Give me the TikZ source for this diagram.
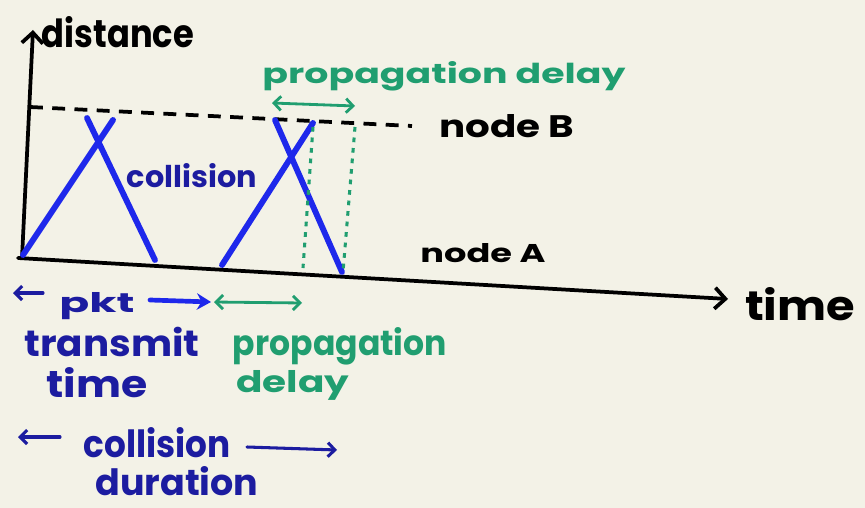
\documentclass[tikz,border=0pt]{standalone}
\usepackage{fontspec}
\setmainfont{Poppins}
\usetikzlibrary{arrows.meta}
\definecolor{paper}{RGB}{243,242,231}
\definecolor{mblue}{RGB}{30,40,235}
\definecolor{navy}{RGB}{28,28,160}
\definecolor{mgreen}{RGB}{32,158,112}
\newcommand\fitwh[3]{\resizebox{#1}{#2}{#3}}
\begin{document}
\begin{tikzpicture}[x=0.03cm,y=-0.03cm,
  axis/.style={line width=3.2pt,line cap=round},
  axtip/.style={-{Straight Barb[length=9pt,width=18pt]}},
  xline/.style={mblue,line width=5pt,line cap=round},
  dashB/.style={line width=3.2pt,dash pattern=on 11pt off 8pt},
  gdot/.style={mgreen,line width=2.6pt,dash pattern=on 4pt off 5pt},
  garrow/.style={mgreen,line width=2.4pt,line cap=round,{Straight Barb[length=6pt,width=12pt]}-{Straight Barb[length=6pt,width=12pt]}},
  nbarb/.style={navy,line width=2.6pt,line cap=round,-{Straight Barb[length=6pt,width=12pt]}},
  lbl/.style={inner sep=0pt,anchor=base,font=\bfseries}]
\fill[paper] (0,0) rectangle (865,508);
\useasboundingbox (0,0) rectangle (865,508);

% axes
\coordinate (O) at (18,258);
\coordinate (ytop) at (33,30);
\coordinate (xend) at (728,299);
\draw[axis,axtip] (22,258) -- (ytop);
\draw[axis,axtip] (O) -- (xend);
\node[lbl] (dist) at (118,48) {\fitwh{4.56cm}{0.93cm}{distance}};
\node[lbl] (timeax) at (800,320) {\fitwh{3.3cm}{0.99cm}{time}};

% node B line
\coordinate (B0) at (30,107);
\coordinate (B1) at (412,126);
\draw[dashB] (B0) -- (B1);
\node[lbl] (nodeB) at (507,138) {\fitwh{4.05cm}{0.69cm}{node B}};
\node[lbl] (nodeA) at (483,262) {\fitwh{3.75cm}{0.57cm}{node A}};

% first collision
\coordinate (a1) at (23,255); \coordinate (b1) at (113,120);
\coordinate (c1) at (87,118); \coordinate (d1) at (155,260);
\draw[xline] (a1) -- (b1);
\draw[xline] (c1) -- (d1);
\node[lbl,text=navy] (coll) at (192,187) {\fitwh{3.9cm}{0.72cm}{collision}};

% second collision
\coordinate (a2) at (222,265); \coordinate (b2) at (313,123);
\coordinate (c2) at (275,120); \coordinate (d2) at (342,272);
\draw[xline] (a2) -- (b2);
\draw[xline] (c2) -- (d2);

% propagation markers
\coordinate (g1t) at (313,127); \coordinate (g1b) at (303,268);
\coordinate (g2t) at (355,127); \coordinate (g2b) at (343,272);
\draw[gdot] (g1t) -- (g1b);
\draw[gdot] (g2t) -- (g2b);
\coordinate (p1) at (272,103); \coordinate (p2) at (355,106);
\draw[garrow] (p1) -- (p2);
\node[lbl,text=mgreen] (ptop) at (444,84) {\fitwh{10.89cm}{0.66cm}{propagation delay}};

% bottom legend
\coordinate (k0) at (43,293); \coordinate (k1) at (13,293);
\draw[nbarb] (k0) -- (k1);
\node[lbl,text=navy] (pkt) at (97,312) {\fitwh{2.25cm}{0.6cm}{pkt}};
\coordinate (k2) at (150,300); \coordinate (k3) at (211,302);
\draw[mblue,line width=4pt,line cap=round,-{Stealth[length=12pt,width=14pt]}] (k2) -- (k3);
\coordinate (q1) at (214,302); \coordinate (q2) at (302,303);
\draw[garrow] (q1) -- (q2);
\node[lbl,text=navy] (trans) at (112,356) {\fitwh{5.25cm}{0.88cm}{transmit}};
\node[lbl,text=navy] (ttime) at (97,397) {\fitwh{3.03cm}{0.9cm}{time}};
\node[lbl,text=mgreen] (pbot) at (340,355) {\fitwh{6.42cm}{0.84cm}{propagation}};
\node[lbl,text=mgreen] (dbot) at (293,392) {\fitwh{3.39cm}{0.66cm}{delay}};

\coordinate (c0) at (60,437); \coordinate (cL) at (18,437);
\draw[nbarb] (c0) -- (cL);
\node[lbl,text=navy] (collb) at (157,457) {\fitwh{4.41cm}{0.9cm}{collision}};
\coordinate (c3) at (247,447); \coordinate (c4) at (337,450);
\draw[nbarb] (c3) -- (c4);
\node[lbl,text=navy] (dur) at (177,495) {\fitwh{4.89cm}{0.87cm}{duration}};
\end{tikzpicture}
\end{document}
